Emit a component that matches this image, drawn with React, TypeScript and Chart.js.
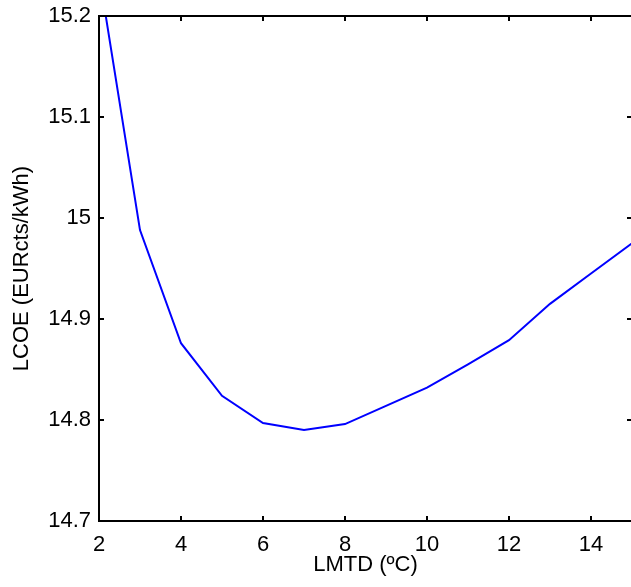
import React, { useEffect, useRef } from "react";
import { Chart, registerables } from "chart.js";

Chart.register(...registerables);

const lmtd = [2, 3, 4, 5, 6, 7, 8, 9, 10, 11, 12, 13, 14, 15];
const lcoe = [15.242, 14.988, 14.876, 14.824, 14.797, 14.79, 14.796, 14.814, 14.832, 14.855, 14.879, 14.915, 14.945, 14.975];
const xTicks = [2, 4, 6, 8, 10, 12, 14];
const xTickLabels = ["2", "4", "6", "8", "10", "12", "14"];
const yTicks = [14.7, 14.8, 14.9, 15, 15.1, 15.2];
const yTickLabels = ["14.7", "14.8", "14.9", "15", "15.1", "15.2"];
const xTitle = "LMTD (ºC)";
const yTitle = "LCOE (EURcts/kWh)";

const labelFor = (vals: number[], labels: string[], v: number) => {
  const i = vals.findIndex((t) => Math.abs(t - v) < 1e-9);
  return i >= 0 ? labels[i] : "";
};

const framePlugin = {
  id: "frame",
  afterDatasetsDraw(chart: any) {
    const { ctx, chartArea: a, scales } = chart;
    ctx.save();
    ctx.strokeStyle = "#000";
    ctx.lineWidth = 2;
    ctx.strokeRect(a.left, a.top, a.right - a.left, a.bottom - a.top);
    const L = 5;
    ctx.beginPath();
    scales.x.ticks.forEach((t: any) => {
      const px = Math.round(scales.x.getPixelForValue(t.value));
      ctx.moveTo(px, a.bottom);
      ctx.lineTo(px, a.bottom - L);
      ctx.moveTo(px, a.top);
      ctx.lineTo(px, a.top + L);
    });
    scales.y.ticks.forEach((t: any) => {
      const py = Math.round(scales.y.getPixelForValue(t.value));
      ctx.moveTo(a.left, py);
      ctx.lineTo(a.left + L, py);
      ctx.moveTo(a.right, py);
      ctx.lineTo(a.right - L, py);
    });
    ctx.stroke();
    ctx.restore();
  },
};

export default function App() {
  const ref = useRef<HTMLCanvasElement | null>(null);

  useEffect(() => {
    if (!ref.current) return;
    const font = { family: "'Liberation Sans', Arial, sans-serif", size: 22 };
    const chart = new Chart(ref.current, {
      type: "line",
      data: {
        datasets: [
          {
            data: lmtd.map((x, i) => ({ x, y: lcoe[i] })),
            borderColor: "#0000ff",
            backgroundColor: "#0000ff",
            borderWidth: 2,
            pointRadius: 0,
            tension: 0,
            fill: false,
          },
        ],
      },
      options: {
        responsive: false,
        animation: false,
        events: [],
        layout: { padding: { left: 0, top: 16, right: 18, bottom: 0 } },
        plugins: { legend: { display: false }, tooltip: { enabled: false }, title: { display: false } },
        scales: {
          x: {
            type: "linear",
            min: 2,
            max: 15,
            grid: { display: false, drawTicks: false },
            border: { display: false },
            afterBuildTicks: (s: any) => {
              s.ticks = xTicks.map((v) => ({ value: v }));
            },
            afterFit: (s: any) => {
              s.height = 66;
              s.paddingLeft = 0;
              s.paddingRight = 0;
            },
            ticks: {
              autoSkip: false,
              maxRotation: 0,
              padding: 11,
              color: "#000",
              font,
              callback: (v: any) => labelFor(xTicks, xTickLabels, Number(v)),
            },
            title: { display: true, text: xTitle, color: "#000", font, padding: { top: 0, bottom: 9 } },
          },
          y: {
            type: "linear",
            min: 14.7,
            max: 15.2,
            grid: { display: false, drawTicks: false },
            border: { display: false },
            afterBuildTicks: (s: any) => {
              s.ticks = yTicks.map((v) => ({ value: v }));
            },
            afterFit: (s: any) => {
              s.width = 99;
              s.paddingTop = 0;
              s.paddingBottom = 0;
            },
            ticks: {
              autoSkip: false,
              padding: 8,
              color: "#000",
              font,
              callback: (v: any) => labelFor(yTicks, yTickLabels, Number(v)),
            },
            title: { display: true, text: yTitle, color: "#000", font, padding: { top: 9, bottom: 0 } },
          },
        },
      },
      plugins: [framePlugin],
    });
    return () => chart.destroy();
  }, []);

  return (
    <div style={{ position: "fixed", left: 0, top: 0, width: 631, height: 587, overflow: "hidden", background: "#fff" }}>
      <canvas ref={ref} width={650} height={587} style={{ display: "block" }} />
    </div>
  );
}
